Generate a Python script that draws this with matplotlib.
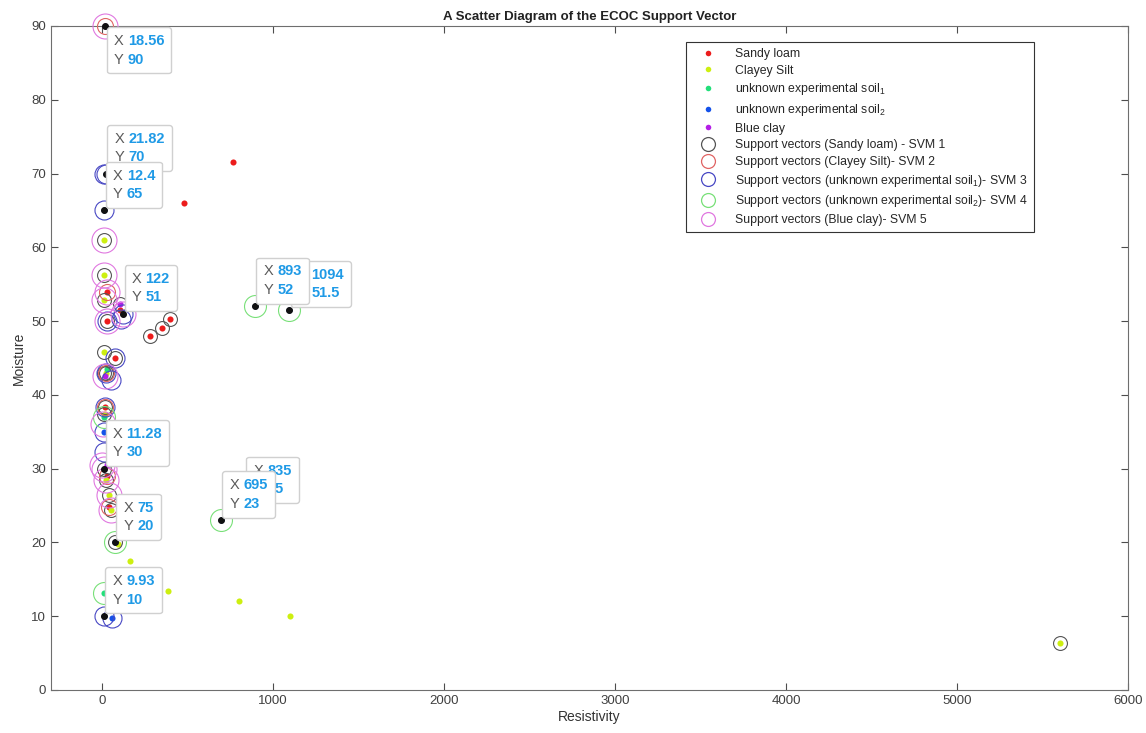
import matplotlib
matplotlib.use("Agg")
import matplotlib.pyplot as plt
from matplotlib.lines import Line2D
from matplotlib.offsetbox import TextArea, HPacker, VPacker, AnnotationBbox

plt.rcParams['font.family'] = ['Liberation Sans', 'DejaVu Sans']
plt.rcParams['mathtext.fontset'] = 'custom'
plt.rcParams['mathtext.rm'] = 'Liberation Sans'
plt.rcParams['mathtext.it'] = 'Liberation Sans:italic'
plt.rcParams['mathtext.bf'] = 'Liberation Sans:bold'

# ---------------- data ----------------
sandy_x = [766, 480, 398, 351, 281, 76, 29, 29, 15, 38, 25, 105]
sandy_y = [71.6, 66.0, 50.3, 49.0, 48.0, 45.0, 50.0, 54.0, 38.4, 24.8, 29.0, 51.5]

clayey_x = [5602, 1099, 801, 386, 164, 90, 12, 12, 12, 12, 22, 18, 40, 50, 20]
clayey_y = [6.4, 10.0, 12.1, 13.4, 17.5, 19.8, 61.0, 56.3, 52.8, 45.8, 43.0, 37.4, 26.4, 24.4, 28.5]

unk1_x = [12, 8, 30]
unk1_y = [37.0, 13.1, 43.5]

unk2_x = [8, 58, 21.82, 12.4, 893, 1094, 695, 835, 9.93, 75]
unk2_y = [35.0, 9.8, 70, 65, 52, 51.5, 23, 25, 10, 20]

bclay_x = [18.56, 11.28, 122, 105, 15, 30]
bclay_y = [90, 30, 51, 52.3, 42.5, 30.5]

sv1_x = [5602, 12, 12, 12, 29, 281, 351, 398, 12, 76, 15, 12, 40, 50, 75, 105, 22, 12, 20, 11.28]
sv1_y = [6.4, 61, 56.3, 52.8, 50, 48, 49, 50.3, 45.8, 45, 38.4, 43, 26.4, 24.4, 20, 52.3, 43, 37.4, 28.5, 30]

sv2_x = [18.56, 29, 22, 15, 25, 38]
sv2_y = [90, 54, 43, 38.4, 29, 24.8]

sv3_x = [10, 21.82, 12.4, 9.93, 58, 76, 50, 15, 8, 12, 122, 110, 22, 29]
sv3_y = [70, 70, 65, 10, 9.8, 45, 42, 38.4, 35, 32.3, 51, 50.3, 43, 50]

sv4_x = [893, 1094, 695, 835, 75, 8, 12]
sv4_y = [52, 51.5, 23, 25, 20, 13.1, 37]

sv5_x = [18.56, 12, 12, 12, 29, 11.28, 0, 40, 50, 122, 29, 15, 5, 20]
sv5_y = [90, 61, 56.3, 52.8, 54, 30, 30.5, 26.4, 24.4, 51, 50, 42.5, 36, 28.5]

# data tips (drawn in this order, later ones on top)
tip_x = [21.82, 12.4, 18.56, 122, 1094, 893, 11.28, 835, 695, 75, 9.93]
tip_y = [70, 65, 90, 51, 51.5, 52, 30, 25, 23, 20, 10]

x_ticks = [0, 1000, 2000, 3000, 4000, 5000, 6000]
y_ticks = [0, 10, 20, 30, 40, 50, 60, 70, 80, 90]

# ---------------- styles ----------------
class_colors = ['#ec1c1c', '#cdef10', '#22df7a', '#1452ea', '#b41ee6']
class_labels = ['Sandy loam', 'Clayey Silt', r'unknown experimental soil$_1$',
                r'unknown experimental soil$_2$', 'Blue clay']
sv_colors = ['#555555', '#e06464', '#4848c4', '#78e078', '#e078e0']
sv_sizes = [10, 11.5, 13.7, 15.8, 18]
sv_labels = ['Support vectors (Sandy loam) - SVM 1',
             'Support vectors (Clayey Silt)- SVM 2',
             r'Support vectors (unknown experimental soil$_1$)- SVM 3',
             r'Support vectors (unknown experimental soil$_2$)- SVM 4',
             'Support vectors (Blue clay)- SVM 5']

fig = plt.figure(figsize=(11.46, 7.33), dpi=100)
ax = fig.add_axes([51 / 1146, 43 / 733, (1128 - 51) / 1146, (690 - 26) / 733])

classes = [(sandy_x, sandy_y), (clayey_x, clayey_y), (unk1_x, unk1_y),
           (unk2_x, unk2_y), (bclay_x, bclay_y)]
for (cx, cy), col in zip(classes, class_colors):
    ax.plot(cx, cy, 'o', ms=4.4, mfc=col, mec='none', ls='none', zorder=3, clip_on=False)

svs = [(sv1_x, sv1_y), (sv2_x, sv2_y), (sv3_x, sv3_y), (sv4_x, sv4_y), (sv5_x, sv5_y)]
for (sx, sy), col, sz in zip(svs, sv_colors, sv_sizes):
    ax.plot(sx, sy, 'o', ms=sz, mfc='none', mec=col, mew=0.8, ls='none', zorder=4,
            clip_on=False)

ax.set_xlim(-300, 6000)
ax.set_ylim(0, 90)
ax.set_xticks(x_ticks)
ax.set_yticks(y_ticks)
ax.tick_params(direction='in', top=True, right=True, length=5, width=0.8,
               colors='#4d4d4d', labelsize=9.5, labelcolor='#404040')
for sp in ax.spines.values():
    sp.set_color('#6e6e6e')
    sp.set_linewidth(0.8)

ax.set_title('A Scatter Diagram of the ECOC Support Vector', fontsize=9.5,
             fontweight='bold', color='#222222', pad=4)
ax.set_xlabel('Resistivity', fontsize=10, color='#333333', labelpad=2)
ax.set_ylabel('Moisture', fontsize=10, color='#333333', labelpad=4)

# legend
handles = []
for col, lab in zip(class_colors, class_labels):
    handles.append(Line2D([], [], marker='o', ms=4, mfc=col, mec='none', ls='none', label=lab))
for col, lab in zip(sv_colors, sv_labels):
    handles.append(Line2D([], [], marker='o', ms=10, mfc='none', mec=col, mew=0.9, ls='none', label=lab))
leg = ax.legend(handles=handles, loc='upper left', bbox_to_anchor=(0.590, 0.976),
                fontsize=8.8, frameon=True, fancybox=False, edgecolor='#333333',
                framealpha=1, borderpad=0.5, labelspacing=0.38, handletextpad=0.9,
                handlelength=2.6, borderaxespad=0)
leg.get_frame().set_linewidth(0.8)
leg.set_zorder(30)
for t in leg.get_texts():
    t.set_color('#262626')

# data tips
for i, (tx, ty) in enumerate(zip(tip_x, tip_y)):
    ax.plot([tx], [ty], 'o', ms=4.0, mfc='#111111', mec='#111111', zorder=10 + 2 * i,
            clip_on=False)
    fp_k = dict(color='#5a5a5a', fontsize=10.5)
    fp_v = dict(color='#1f9ae6', fontsize=10.5, fontweight='bold')
    row1 = HPacker(children=[TextArea('X', textprops=fp_k), TextArea(f'{tx:g}', textprops=fp_v)],
                   sep=3, pad=0, align='baseline')
    row2 = HPacker(children=[TextArea('Y', textprops=fp_k), TextArea(f'{ty:g}', textprops=fp_v)],
                   sep=3, pad=0, align='baseline')
    box = VPacker(children=[row1, row2], sep=3, pad=0, align='left')
    if ty > 85:
        align, off = (0, 1), (6, -6)
    else:
        align, off = (0, 0), (6, 7)
    ab = AnnotationBbox(box, (tx, ty), xybox=off, xycoords='data', boxcoords='offset points',
                        box_alignment=align, frameon=True, pad=0.5,
                        bboxprops=dict(boxstyle='round,pad=0.5,rounding_size=0.2',
                                       fc='white', ec='#d0d0d0', lw=1.0))
    ab.set_zorder(11 + 2 * i)
    ax.add_artist(ab)

fig.savefig('out.png', dpi=100)
